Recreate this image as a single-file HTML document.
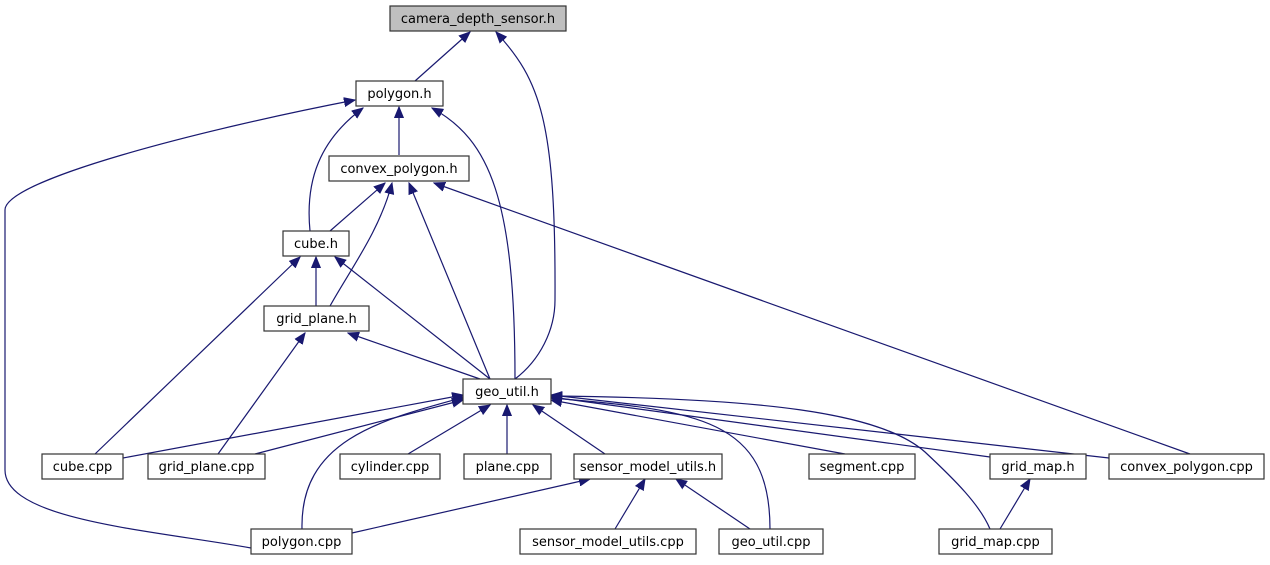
<!DOCTYPE html>
<html><head><meta charset="utf-8"><style>
body{margin:0;background:#fff;}
svg text{font-family:"DejaVu Sans","Liberation Sans",sans-serif;font-size:13px;}
</style></head><body>
<svg width="1270" height="560" viewBox="0 0 1270 560" xmlns="http://www.w3.org/2000/svg">
<defs><marker id="a" markerUnits="userSpaceOnUse" markerWidth="12" markerHeight="10" refX="11" refY="5" orient="auto-start-reverse"><path d="M0,0.5 L11,5 L0,9.5 z" fill="#191970" stroke="#191970"/></marker></defs>
<g fill="none" stroke="#191970" stroke-width="1.2" marker-start="url(#a)">
<path d="M470,32 L415,81"/>
<path d="M496,32 C540,80 556,120 555,300 C555,330 540,360 515,379"/>
<path d="M399,107 L399,155"/>
<path d="M363,108 C320,140 305,180 310,231"/>
<path d="M432,108 C490,140 515,200 515,379"/>
<path d="M355,100 C200,130 5,180 5,210 L5,470 C5,520 150,530 251,548"/>
<path d="M385,183 L330,231"/>
<path d="M392,183 C380,230 350,270 330,306"/>
<path d="M409,183 L490,379"/>
<path d="M434,183 L1190,454"/>
<path d="M316,257 L316,306"/>
<path d="M335,257 L490,379"/>
<path d="M300,257 L95,454"/>
<path d="M305,333 L218,454"/>
<path d="M348,333 L480,379"/>
<path d="M463,395 L123,458"/>
<path d="M463,400 L255,454"/>
<path d="M465,397 C380,420 300,440 302,529"/>
<path d="M490,405 L408,454"/>
<path d="M507,405 L507,454"/>
<path d="M533,405 L605,454"/>
<path d="M551,400 L845,454"/>
<path d="M551,397 L990,457"/>
<path d="M551,395 L1109,458"/>
<path d="M551,398 C700,410 770,420 770,529"/>
<path d="M551,396 C760,398 880,412 925,452 C955,480 980,505 990,529"/>
<path d="M590,479 L352,533"/>
<path d="M645,479 L615,529"/>
<path d="M676,479 L750,529"/>
<path d="M1030,479 L1000,529"/>
</g>
<g stroke="#333" stroke-width="1.2" fill="#fff">
<rect x="390" y="6" width="176" height="25" fill="#bfbfbf"/>
<rect x="356" y="81" width="87" height="25"/>
<rect x="329" y="156" width="140" height="25"/>
<rect x="283" y="231" width="66" height="25"/>
<rect x="264" y="306" width="105" height="25"/>
<rect x="463" y="379" width="88" height="25"/>
<rect x="42" y="454" width="81" height="25"/>
<rect x="148" y="454" width="117" height="25"/>
<rect x="340" y="454" width="100" height="25"/>
<rect x="464" y="454" width="87" height="25"/>
<rect x="574" y="454" width="148" height="25"/>
<rect x="809" y="454" width="106" height="25"/>
<rect x="990" y="454" width="96" height="25"/>
<rect x="1109" y="454" width="155" height="25"/>
<rect x="251" y="529" width="101" height="25"/>
<rect x="520" y="529" width="176" height="25"/>
<rect x="719" y="529" width="104" height="25"/>
<rect x="939" y="529" width="113" height="25"/>
</g>
<g fill="#000" text-anchor="middle">
<text x="478" y="23">camera_depth_sensor.h</text>
<text x="399.5" y="98">polygon.h</text>
<text x="399" y="173">convex_polygon.h</text>
<text x="316" y="248">cube.h</text>
<text x="316.5" y="323">grid_plane.h</text>
<text x="507" y="396">geo_util.h</text>
<text x="82.5" y="471">cube.cpp</text>
<text x="206.5" y="471">grid_plane.cpp</text>
<text x="390" y="471">cylinder.cpp</text>
<text x="507.5" y="471">plane.cpp</text>
<text x="648" y="471">sensor_model_utils.h</text>
<text x="862" y="471">segment.cpp</text>
<text x="1038" y="471">grid_map.h</text>
<text x="1186.5" y="471">convex_polygon.cpp</text>
<text x="301.5" y="546">polygon.cpp</text>
<text x="608" y="546">sensor_model_utils.cpp</text>
<text x="771" y="546">geo_util.cpp</text>
<text x="995.5" y="546">grid_map.cpp</text>
</g>
</svg>
</body></html>
